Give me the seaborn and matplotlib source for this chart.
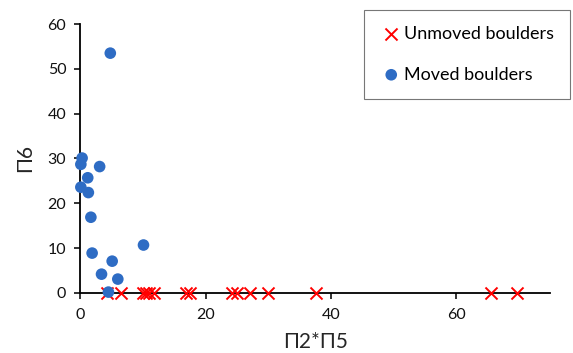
import pandas as pd
import seaborn as sns
import matplotlib.pyplot as plt

# Unmoved boulders (Π6 = 0)
unmoved_x = [4.3, 6.5, 10.1, 10.5, 10.9, 11.7, 16.9, 17.6, 24.3, 25.0, 27.1, 29.9, 37.6, 65.5, 69.7]
unmoved_y = [0] * len(unmoved_x)

# Moved boulders
moved_x = [4.8, 0.3, 0.1, 3.1, 1.2, 0.1, 1.3, 1.7, 10.1, 1.9, 5.1, 3.4, 6.0, 4.5]
moved_y = [53.5, 30.1, 28.7, 28.2, 25.7, 23.6, 22.4, 16.9, 10.7, 8.9, 7.1, 4.2, 3.1, 0.2]

x_ticks = [0, 20, 40, 60]
y_ticks = [0, 10, 20, 30, 40, 50, 60]

sns.set_style("white")
plt.rcParams['font.family'] = ['Lato', 'DejaVu Sans']

unmoved = pd.DataFrame({"x": unmoved_x, "y": unmoved_y})
moved = pd.DataFrame({"x": moved_x, "y": moved_y})

fig = plt.figure(figsize=(5.73, 3.53), dpi=100)
ax = fig.add_axes([0.14, 0.17, 0.82, 0.762])

sns.scatterplot(data=moved, x="x", y="y", ax=ax, color="#2E6CC4", s=70,
                edgecolor="none", label="Moved boulders", zorder=3, clip_on=False)
sns.scatterplot(data=unmoved, x="x", y="y", ax=ax, color="red", marker="x", s=75,
                linewidth=1.4, label="Unmoved boulders", zorder=2, clip_on=False)

ax.set_xlim(0, 75)
ax.set_ylim(0, 60)
ax.set_xticks(x_ticks)
ax.set_yticks(y_ticks)
ax.set_xlabel("Π2*Π5", fontsize=15, labelpad=7)
ax.set_ylabel("Π6", fontsize=15, labelpad=9)
ax.tick_params(labelsize=11.5, direction="out", length=4, width=1.2, colors="#111111",
               left=True, bottom=True)
ax.tick_params(axis="x", pad=7)
ax.tick_params(axis="y", pad=6)
for s in ["top", "right"]:
    ax.spines[s].set_visible(False)
for s in ["left", "bottom"]:
    ax.spines[s].set_color("black")
    ax.spines[s].set_linewidth(1.3)
    ax.spines[s].set_zorder(1)

h, l = ax.get_legend_handles_labels()
leg = ax.legend([h[1], h[0]], [l[1], l[0]], loc="upper right",
                bbox_to_anchor=(0.995, 0.972), bbox_transform=fig.transFigure,
                fontsize=13, frameon=True, fancybox=False, edgecolor="#555555",
                handletextpad=0.1, handlelength=1.2, labelspacing=1.35,
                borderpad=0.9, borderaxespad=0)
leg.get_frame().set_linewidth(0.8)
for t in leg.get_texts():
    t.set_color("black")

fig.savefig("out.png", dpi=100)
